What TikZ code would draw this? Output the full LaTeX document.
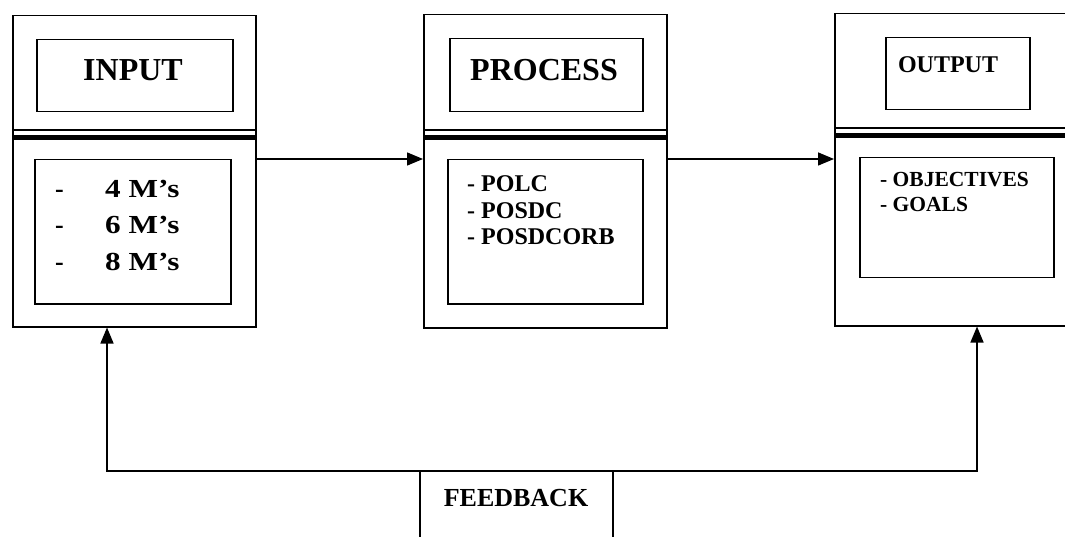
\documentclass[tikz,border=0pt]{standalone}
\usepackage{fontspec}
\setmainfont{Liberation Serif}
\usetikzlibrary{arrows.meta,calc}
\begin{document}
\begin{tikzpicture}[x=1pt,y=-1pt,
  box/.style={draw, line width=1.5pt, inner sep=0pt, anchor=north west},
  thinrule/.style={line width=1.3pt},
  thickrule/.style={line width=5pt},
  arr/.style={line width=1.5pt, -{Triangle[length=16pt,width=13pt]}},
  fbline/.style={line width=1.5pt},
  bigtitle/.style={font=\bfseries\fontsize{32}{38}\selectfont, inner sep=0pt},
  smalltitle/.style={font=\bfseries\fontsize{24}{28}\selectfont, inner sep=0pt},
  mlist/.style={font=\bfseries\fontsize{26}{30}\selectfont, inner sep=0pt, anchor=base west},
  plist/.style={font=\bfseries\fontsize{24}{28}\selectfont, inner sep=0pt, anchor=base west},
  olist/.style={font=\bfseries\fontsize{21.5}{25}\selectfont, inner sep=0pt, anchor=base west},
  fbtext/.style={font=\bfseries\fontsize{26}{30}\selectfont, inner sep=0pt}
]
\useasboundingbox (0,0) rectangle (1065,537);

% ---------- INPUT ----------
\node[box, minimum width=243pt, minimum height=311pt] (inOuter) at (12,15) {};
\draw[thinrule] (12,130) -- (255,130);
\draw[thickrule] (12,137.5) -- (255,137.5);
\node[box, minimum width=196pt, minimum height=72pt] (inTitle) at (36,39) {};
\node[bigtitle] (inTitleText) at (133,70) {INPUT};
\node[box, minimum width=196pt, minimum height=144pt] (inList) at (34,159) {};
\node[mlist, anchor=base] (inD1) at (59.5,198) {-};
\node[mlist, anchor=base] (inD2) at (59.5,234) {-};
\node[mlist, anchor=base] (inD3) at (59.5,270) {-};
\node[mlist] (inL1) at (105,198) {\scalebox{1.2}[1]{4 M’s}};
\node[mlist] (inL2) at (105,234) {\scalebox{1.2}[1]{6 M’s}};
\node[mlist] (inL3) at (105,270) {\scalebox{1.2}[1]{8 M’s}};

% ---------- PROCESS ----------
\node[box, minimum width=243pt, minimum height=313pt] (prOuter) at (423,14) {};
\draw[thinrule] (423,130) -- (666,130);
\draw[thickrule] (423,137.5) -- (666,137.5);
\node[box, minimum width=193pt, minimum height=73pt] (prTitle) at (449,38) {};
\node[bigtitle] (prTitleText) at (544,70) {PROCESS};
\node[box, minimum width=195pt, minimum height=144pt] (prList) at (447,159) {};
\node[plist] (prL1) at (467,192) {- POLC};
\node[plist] (prL2) at (467,218.5) {- POSDC};
\node[plist] (prL3) at (467,245) {- POSDCORB};

% ---------- OUTPUT ----------
\node[box, minimum width=245pt, minimum height=312pt] (ouOuter) at (834,13) {};
\draw[thinrule] (834,128) -- (1070,128);
\draw[thickrule] (834,135.5) -- (1070,135.5);
\node[box, minimum width=144pt, minimum height=72pt] (ouTitle) at (885,37) {};
\node[smalltitle] (ouTitleText) at (948,65) {OUTPUT};
\node[box, minimum width=194pt, minimum height=120pt] (ouList) at (859,157) {};
\node[olist] (ouL1) at (880,187) {- OBJECTIVES};
\node[olist] (ouL2) at (880,212) {- GOALS};

% ---------- forward arrows ----------
\draw[arr] (inOuter.east |- inList.north) -- (prOuter.west |- inList.north);
\draw[arr] (prOuter.east |- prList.north) -- (ouOuter.west |- prList.north);

% ---------- FEEDBACK ----------
\node[inner sep=0pt, minimum width=193pt, minimum height=80pt, anchor=north] (fb) at (516.5,471) {};
\draw[fbline] (fb.south west) -- (fb.north west) -- (fb.north east) -- (fb.south east);
\node[fbtext] (fbText) at (516,498) {FEEDBACK};
\coordinate (inFb) at ($(inOuter.south west)+(95,0)$);
\coordinate (ouFb) at ($(ouOuter.south west)+(143,0)$);
\draw[arr] (fb.north west) -| (inFb);
\draw[arr] (fb.north east) -| (ouFb);
\end{tikzpicture}
\end{document}
